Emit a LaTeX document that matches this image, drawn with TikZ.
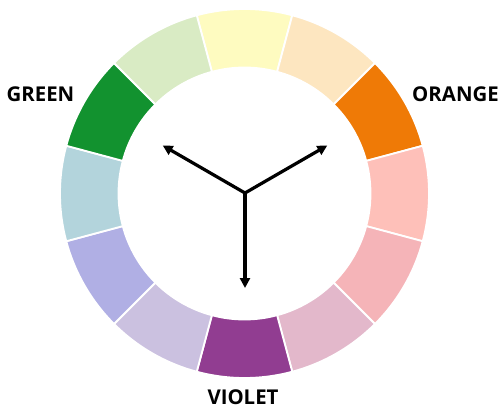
\documentclass[tikz,border=0pt]{standalone}
\usepackage{fontspec}
\setsansfont{Open Sans}
\usepackage{tikz}
\usetikzlibrary{arrows.meta, calc}
\definecolor{wheelyellow}{RGB}{254, 251, 192}
\definecolor{wheelpeach}{RGB}{253, 230, 192}
\definecolor{wheelorange}{RGB}{239, 122, 6}
\definecolor{wheelsalmon}{RGB}{254, 192, 185}
\definecolor{wheelpink}{RGB}{245, 180, 184}
\definecolor{wheelmauve}{RGB}{227, 184, 203}
\definecolor{wheelviolet}{RGB}{145, 61, 145}
\definecolor{wheellavender}{RGB}{203, 193, 224}
\definecolor{wheelperiwinkle}{RGB}{176, 175, 228}
\definecolor{wheelblue}{RGB}{179, 212, 220}
\definecolor{wheelgreen}{RGB}{18, 146, 47}
\definecolor{wheellime}{RGB}{217, 235, 196}

\begin{document}
\begin{tikzpicture}[
    x=0.025cm, y=0.025cm,
    font=\sffamily\bfseries\fontsize{14.5}{16}\selectfont,
    segment/.style={draw=white, line width=1.3pt},
    pointer/.style={-{Triangle[length=7pt, width=7pt]}, line width=2.3pt, black},
    colorname/.style={inner sep=0pt, text=black}
]
\useasboundingbox (-244.5,-214.5) rectangle (253.5,193.5);

% the twelve segments of the wheel
\foreach \col [count=\k from 0] in {wheelyellow, wheelpeach, wheelorange, wheelsalmon,
    wheelpink, wheelmauve, wheelviolet, wheellavender, wheelperiwinkle, wheelblue,
    wheelgreen, wheellime} {
    \pgfmathsetmacro{\a}{105-30*\k}
    \pgfmathsetmacro{\b}{75-30*\k}
    \filldraw[segment, fill=\col] (\a:184.5) arc[start angle=\a, end angle=\b, radius=184.5]
        -- (\b:126) arc[start angle=\b, end angle=\a, radius=126] -- cycle;
}

\coordinate (hub) at (0.5,0.5);
\coordinate (tipgreen) at ($(hub)+(150:95)$);
\coordinate (tiporange) at ($(hub)+(30:95)$);
\coordinate (tipviolet) at ($(hub)+(270:95)$);

\draw[pointer] (hub) -- (tipgreen);
\draw[pointer] (hub) -- (tiporange);
\draw[pointer] (hub) -- (tipviolet);

\node[colorname] (green) at (-204,99.5) {GREEN};
\node[colorname] (orange) at (211,99.5) {ORANGE};
\node[colorname] (violet) at (-1.5,-203.5) {VIOLET};
\end{tikzpicture}
\end{document}
